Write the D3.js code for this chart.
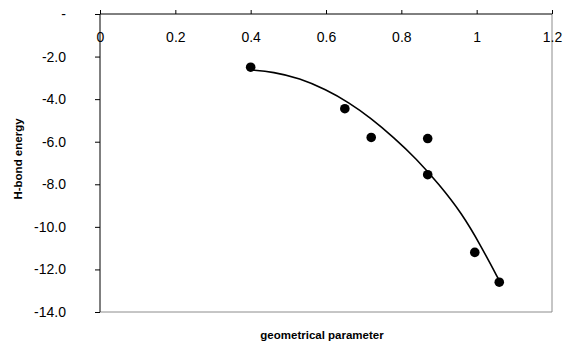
<!DOCTYPE html>
<html>
<head>
<meta charset="utf-8">
<script src="https://cdn.jsdelivr.net/npm/d3@7"></script>
<style>
  body { margin: 0; background: #fff; }
  svg { display: block; font-family: "Liberation Sans", Arial, sans-serif; }
</style>
</head>
<body>
<svg id="chart" width="564" height="346"></svg>
<script>
// measured points (geometrical parameter vs H-bond energy)
var geomParam = [0.40, 0.65, 0.72, 0.87, 0.87, 0.995, 1.06];
var hbondEnergy = [-2.5, -4.45, -5.8, -5.85, -7.55, -11.2, -12.6];

// trendline
var trendX = [0.40, 0.46, 0.53, 0.60, 0.66, 0.72, 0.78, 0.84, 0.90, 0.96, 1.01, 1.062];
var trendY = [-2.63, -2.72, -3.02, -3.55, -4.15, -4.90, -5.80, -6.80, -8.00, -9.35, -10.85, -12.59];

var xTicks = [0, 0.2, 0.4, 0.6, 0.8, 1, 1.2];
var yTicks = [0, -2, -4, -6, -8, -10, -12, -14];

var svg = d3.select('#chart');
// plot area edges (avoid "top", which is window.top)
var plotL = 100, plotR = 552, plotT = 14, plotB = 312;

var x = d3.scaleLinear().domain([0, 1.2]).range([plotL, plotR]);
var y = d3.scaleLinear().domain([0, -14]).range([plotT, plotB]);

// plot area border (right + bottom are grey)
svg.append('line')
  .attr('x1', plotR).attr('x2', plotR).attr('y1', plotT).attr('y2', plotB)
  .attr('stroke', '#8c8c8c').attr('stroke-width', 1);
svg.append('line')
  .attr('x1', plotL).attr('x2', plotR).attr('y1', plotB).attr('y2', plotB)
  .attr('stroke', '#8c8c8c').attr('stroke-width', 1);

// x axis sits at y = 0, i.e. at the top
var xAxis = svg.append('g')
  .attr('transform', 'translate(0,' + y(0) + ')')
  .call(d3.axisTop(x).tickValues(xTicks).tickSize(4).tickFormat(d3.format('')));
xAxis.select('.domain').attr('stroke', '#000').attr('d', 'M' + plotL + ',0H' + plotR);
xAxis.selectAll('.tick line').attr('stroke', '#000');
xAxis.selectAll('.tick text')
  .attr('y', 23).attr('dy', '0.35em')
  .attr('font-size', 14).attr('fill', '#000')
  .attr('font-family', '"Liberation Sans", Arial, sans-serif');

var yAxis = svg.append('g')
  .attr('transform', 'translate(' + plotL + ',0)')
  .call(d3.axisLeft(y).tickValues(yTicks).tickSize(5)
    .tickFormat((d) => d === 0 ? '-' : d3.format('.1f')(d).replace('−', '-')));
yAxis.select('.domain').attr('stroke', '#000').attr('d', 'M0,' + plotT + 'V' + plotB);
yAxis.selectAll('.tick line').attr('stroke', '#000');
yAxis.selectAll('.tick text')
  .attr('x', -34)
  .attr('font-size', 14).attr('fill', '#000')
  .attr('font-family', '"Liberation Sans", Arial, sans-serif');

// trendline
var trend = trendX.map((d, i) => [d, trendY[i]]);
svg.append('path')
  .datum(trend)
  .attr('fill', 'none')
  .attr('stroke', '#000')
  .attr('stroke-width', 1.6)
  .attr('d', d3.line().x((d) => x(d[0])).y((d) => y(d[1])).curve(d3.curveBasis));

// points
svg.append('g').selectAll('circle')
  .data(geomParam.map((d, i) => ({ x: d, y: hbondEnergy[i] })))
  .enter().append('circle')
  .attr('cx', (d) => x(d.x))
  .attr('cy', (d) => y(d.y))
  .attr('r', 4.8)
  .attr('fill', '#000');

// axis titles
svg.append('text')
  .attr('x', 322).attr('y', 339)
  .attr('text-anchor', 'middle')
  .attr('font-size', 11.5).attr('font-weight', 'bold')
  .text('geometrical parameter');

svg.append('text')
  .attr('transform', 'translate(22,159) rotate(-90)')
  .attr('text-anchor', 'middle')
  .attr('font-size', 11.5).attr('font-weight', 'bold')
  .text('H-bond energy');
</script>
</body>
</html>
